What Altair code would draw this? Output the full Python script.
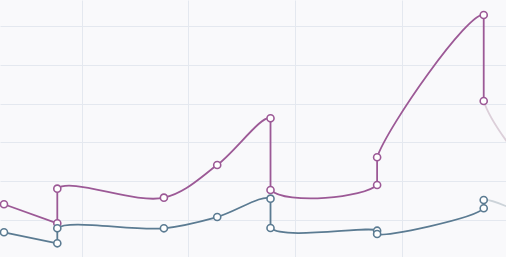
import math
import altair as alt
import pandas as pd

# x position index of each observation (repeated index = vertical jump)
steps = [0, 1, 1, 3, 4, 5, 5, 7, 7, 9, 9, 10]
series_names = ["Series A", "Series B"]
series_a = [14.05, 9.15, 18.07, 15.75, 24.18, 36.21, 17.73, 19.02, 26.16, 62.84, 40.67, 20.5]
series_b = [6.83, 3.99, 7.86, 7.86, 10.77, 15.49, 7.94, 7.24, 6.39, 13.02, 15.15, 10.0]
n_solid = 11  # observations drawn in full colour; the rest is faded

x_grid = [1.46, 3.46, 5.46, 7.46]
y_grid = [10, 20, 30, 40, 50, 60]

solid_colors = ["#9c5996", "#5b7b92"]
faded_colors = ["#dccfd9", "#ccd3d9"]

W, H = 506, 257
X_DOMAIN = [-0.075, 9.418]
Y_DOMAIN = [0.46, 66.7]
ALPHA = 0.5  # catmull-rom alpha used by Vega

# smooth pieces: (first, last) observation index, both ends include the
# vertical partner so the curve gets the right tangents
smooth_runs = [(1, 6), (5, 8), (7, 10), (9, 11)]
straight_runs = [(0, 1), (1, 2), (5, 6), (7, 8), (9, 10)]


def to_px(s, v):
    x = (s - X_DOMAIN[0]) / (X_DOMAIN[1] - X_DOMAIN[0]) * W
    y = H - (v - Y_DOMAIN[0]) / (Y_DOMAIN[1] - Y_DOMAIN[0]) * H
    return (x, y)


def catmull_x_extent(P):
    """x extent of the catmull-rom path through P (as d3 draws it)."""
    def d2a(a, b):
        return ((a[0] - b[0]) ** 2 + (a[1] - b[1]) ** 2) ** ALPHA
    n = len(P)
    xs = []
    for i in range(n - 1):
        p1, p2 = P[i], P[i + 1]
        c1, c2 = p1, p2
        l12_2a = d2a(p1, p2)
        l12_a = math.sqrt(l12_2a)
        if i > 0:
            p0 = P[i - 1]
            l01_2a = d2a(p0, p1)
            l01_a = math.sqrt(l01_2a)
            if l01_a > 1e-12:
                a = 2 * l01_2a + 3 * l01_a * l12_a + l12_2a
                nn = 3 * l01_a * (l01_a + l12_a)
                c1 = ((p1[0] * a - p0[0] * l12_2a + p2[0] * l01_2a) / nn,
                      (p1[1] * a - p0[1] * l12_2a + p2[1] * l01_2a) / nn)
        if i < n - 2:
            p3 = P[i + 2]
            l23_2a = d2a(p2, p3)
            l23_a = math.sqrt(l23_2a)
            if l23_a > 1e-12:
                b = 2 * l23_2a + 3 * l23_a * l12_a + l12_2a
                m = 3 * l23_a * (l23_a + l12_a)
                c2 = ((p2[0] * b + p1[0] * l23_2a - p3[0] * l12_2a) / m,
                      (p2[1] * b + p1[1] * l23_2a - p3[1] * l12_2a) / m)
        for k in range(401):
            t = k / 400
            u = 1 - t
            xs.append(u ** 3 * p1[0] + 3 * u * u * t * c1[0] + 3 * u * t * t * c2[0] + t ** 3 * p2[0])
    return min(xs), max(xs)


def hex_rgba(h, a):
    h = h.lstrip("#")
    return f"rgba({int(h[0:2], 16)},{int(h[2:4], 16)},{int(h[4:6], 16)},{a})"


x_enc = alt.X("step:Q", scale=alt.Scale(domain=X_DOMAIN, nice=False, zero=False),
              axis=alt.Axis(values=x_grid, labels=False, ticks=False, domain=False,
                            title=None, grid=True))
y_enc = alt.Y("value:Q", scale=alt.Scale(domain=Y_DOMAIN, nice=False, zero=False),
              axis=alt.Axis(values=y_grid, labels=False, ticks=False, domain=False,
                            title=None, grid=True))

layers = []
straight_rows = []
point_rows = []
for si, (name, vals) in enumerate(zip(series_names, [series_a, series_b])):
    for r, (a, b) in enumerate(straight_runs):
        for o, i in enumerate(range(a, b + 1)):
            straight_rows.append({"series": name, "key": f"{name}-{r}", "ord": o,
                                  "step": steps[i], "value": vals[i]})
    for i in range(n_solid):
        point_rows.append({"series": name, "step": steps[i], "value": vals[i]})

    for (a, b) in smooth_runs:
        idx = list(range(a, b + 1))
        P = [to_px(steps[i], vals[i]) for i in idx]
        xmin, xmax = catmull_x_extent(P)
        x_start = P[0][0]
        faded = b >= n_solid
        x_end = xmax if faded else P[-1][0]
        col = faded_colors[si] if faded else solid_colors[si]
        span = xmax - xmin
        f1 = min(max((x_start - xmin) / span, 0), 1)
        f2 = min(max((x_end - xmin) / span, 0), 1)
        clear = hex_rgba(col, 0)
        stops = [
            {"offset": 0, "color": clear},
            {"offset": f1, "color": clear},
            {"offset": f1, "color": col},
            {"offset": f2, "color": col},
            {"offset": f2, "color": clear},
            {"offset": 1, "color": clear},
        ]
        grad = {"gradient": "linear", "x1": 0, "y1": 0, "x2": 1, "y2": 0, "stops": stops}
        run_df = pd.DataFrame({"step": [steps[i] for i in idx],
                               "value": [vals[i] for i in idx],
                               "ord": list(range(len(idx)))})
        layers.append(
            alt.Chart(run_df).mark_line(interpolate="catmull-rom", strokeWidth=1.8,
                                        stroke=grad, clip=True)
            .encode(x=x_enc, y=y_enc, order="ord:Q")
        )

straight_df = pd.DataFrame(straight_rows)
points_df = pd.DataFrame(point_rows)

straight = alt.Chart(straight_df).mark_line(strokeWidth=1.8, clip=True).encode(
    x=x_enc, y=y_enc, detail="key:N", order="ord:Q",
    color=alt.Color("series:N", scale=alt.Scale(domain=series_names, range=solid_colors), legend=None),
)

points = alt.Chart(points_df).mark_point(
    shape="circle", filled=False, fill="white", fillOpacity=1, size=50,
    strokeWidth=1.6, opacity=1, clip=True).encode(
    x=x_enc, y=y_enc,
    stroke=alt.Stroke("series:N", scale=alt.Scale(domain=series_names, range=solid_colors), legend=None),
)

chart = alt.layer(*layers, straight, points).properties(
    width=506, height=257, padding=0, autosize=alt.AutoSizeParams(type="none"),
    background="#f9f9fb",
).configure_view(stroke=None, fill="#f9f9fb").configure_axis(
    gridColor="#e4e8ef", gridWidth=1)

chart.save("out.html", embed_options={"renderer": "svg", "actions": False})
